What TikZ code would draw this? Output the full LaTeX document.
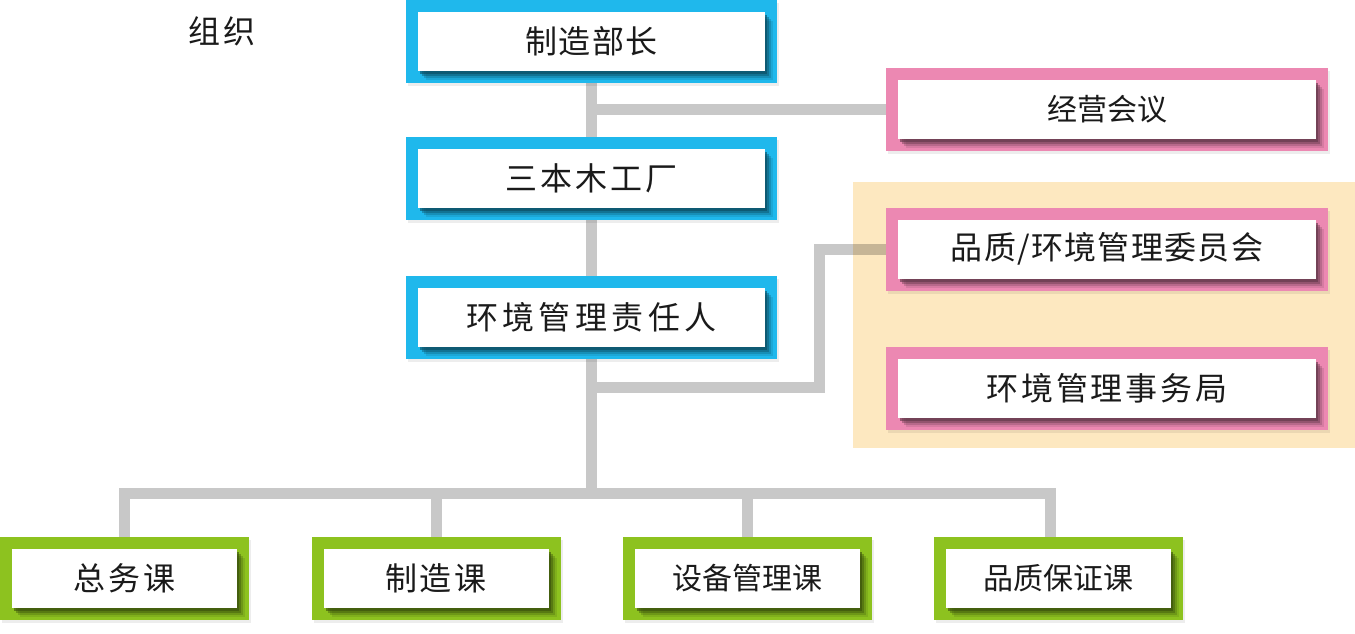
\documentclass[tikz,border=0pt]{standalone}
\usepackage{fontspec}
\newfontfamily\cjk{Noto Sans CJK SC}
\usetikzlibrary{shadows}
\definecolor{orgblue}{HTML}{1FB8EC}
\definecolor{orgpink}{HTML}{EC88B2}
\definecolor{orggreen}{HTML}{8DC21F}
\definecolor{zonebeige}{HTML}{FDE8C0}
\definecolor{linkgray}{HTML}{C8C8C8}
\definecolor{inktext}{HTML}{1A1A1A}
\pgfdeclarelayer{lines}
\pgfdeclarelayer{zone}
\pgfsetlayers{lines,zone,main}
\tikzset{
  outerbox/.style={inner sep=0pt, minimum height=83pt, fill=#1,
    drop shadow={shadow xshift=2pt, shadow yshift=-3pt, fill=black, opacity=.07}},
  card/.style={inner sep=0pt, minimum height=59pt, fill=white, text=inktext,
    font=\cjk\fontsize{30}{36}\selectfont,
    drop shadow={shadow xshift=8pt, shadow yshift=-9pt, fill=#1!40!black, opacity=.15},
    drop shadow={shadow xshift=6pt, shadow yshift=-7pt, fill=#1!40!black, opacity=.25},
    drop shadow={shadow xshift=4pt, shadow yshift=-5pt, fill=#1!40!black, opacity=.4},
    drop shadow={shadow xshift=2pt, shadow yshift=-3pt, fill=#1!40!black, opacity=.6}},
  wide/.style={font=\cjk\fontsize{32}{38}\selectfont\addfontfeatures{LetterSpace=#1}},
  wide/.default=9,
  bluebox/.style={outerbox=orgblue, minimum width=371pt},
  bluecard/.style={card=orgblue, wide, minimum width=347pt},
  pinkbox/.style={outerbox=orgpink, minimum width=442pt},
  pinkcard/.style={card=orgpink, minimum width=418pt},
  greenbox/.style={outerbox=orggreen, minimum width=249pt},
  greencard/.style={card=orggreen, minimum width=225pt},
  link/.style={linkgray, line width=11pt}
}
\begin{document}
\begin{tikzpicture}[x=1pt, y=-1pt]
  \useasboundingbox (0,0) rectangle (1355,634);
  \node at (222,31) [text=inktext, font=\cjk\fontsize{32}{38}\selectfont\addfontfeatures{LetterSpace=8}] (title) {组织};

  \node at (591.5,41.5) [bluebox] (chief) {};
  \node at (chief) [bluecard, wide=4] (chieftext) {制造部长};
  \node at (591.5,178) [bluebox] (plant) {};
  \node at (plant) [bluecard] (planttext) {三本木工厂};
  \node at (591.5,317) [bluebox] (envlead) {};
  \node at (envlead) [bluecard, wide=14] (envleadtext) {环境管理责任人};

  \node at (1107,109.5) [pinkbox] (meeting) {};
  \node at (meeting) [pinkcard] (meetingtext) {经营会议};
  \node at (1107,249) [pinkbox] (committee) {};
  \node at (committee) [pinkcard, wide=4] (committeetext) {品质/环境管理委员会};
  \node at (1107,388) [pinkbox] (office) {};
  \node at (office) [pinkcard, wide] (officetext) {环境管理事务局};

  \node at (124.5,578.5) [greenbox] (general) {};
  \node at (general) [greencard, wide=8] (generaltext) {总务课};
  \node at (436,578.5) [greenbox] (making) {};
  \node at (making) [greencard, wide=8] (makingtext) {制造课};
  \node at (747,578.5) [greenbox] (equipment) {};
  \node at (equipment) [greencard] (equipmenttext) {设备管理课};
  \node at (1058,578.5) [greenbox] (quality) {};
  \node at (quality) [greencard] (qualitytext) {品质保证课};

  \coordinate (bar) at (591.5,493);
  \coordinate (bend) at (819,387.5);
  \begin{pgfonlayer}{lines}
    \draw [link] (chief) -- (bar);
    \draw [link] (meeting.west) -- (meeting.west -| chief);
    \draw [link] (committee.west) -| (bend) -- (bend -| chief);
    \draw [link] (general.north) |- (bar) -| ([xshift=-8pt]quality.north);
    \draw [link] (making.north) -- (making.north |- bar);
    \draw [link] (equipment.north) -- (equipment.north |- bar);
  \end{pgfonlayer}
  \begin{pgfonlayer}{zone}
    \fill [zonebeige, blend mode=multiply] (853,182) rectangle (1355,448);
  \end{pgfonlayer}
\end{tikzpicture}
\end{document}
